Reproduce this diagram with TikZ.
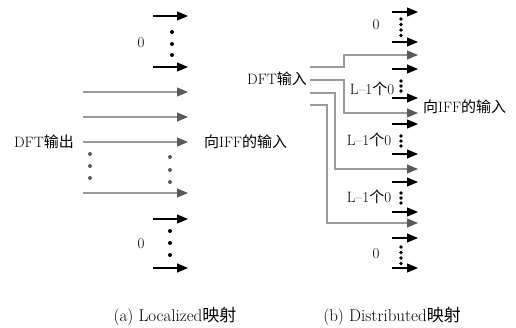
\documentclass[tikz,border=0pt]{standalone}
\usepackage{fontspec}
\newfontfamily\cjk{Noto Sans CJK SC}
\usetikzlibrary{arrows.meta}
\definecolor{lgray}{HTML}{9A9A9A}
\definecolor{dgray}{HTML}{5A5A5A}
\tikzset{
  zeroarrow/.style={draw=black, line width=1.1pt, -{Triangle[length=11pt,width=9pt]}},
  dataarrow/.style={draw=lgray, line width=1.1pt, -{Triangle[length=11pt,width=9pt,color=dgray]}},
  lbl/.style={inner sep=0pt, font=\fontsize{15}{18}\selectfont},
  captxt/.style={inner sep=0pt, font=\fontsize{17}{20}\selectfont},
  bdot/.style={fill=black, draw=none},
  gdot/.style={fill=dgray, draw=none},
}
\begin{document}
\begin{tikzpicture}[x=1pt,y=-1pt]
\useasboundingbox (0,0) rectangle (516,328);
% ---------- (a) Localized ----------
\foreach \y [count=\i] in {16,67,219,268} {
  \coordinate (azs\i) at (153,\y); \coordinate (aze\i) at (188,\y);
  \draw[zeroarrow] (azs\i) -- (aze\i);
}
\foreach \y [count=\i] in {92,117,142,193} {
  \coordinate (ads\i) at (83,\y); \coordinate (ade\i) at (188,\y);
  \draw[dataarrow] (ads\i) -- (ade\i);
}
\node[lbl] (az1) at (141,43) {0};
\node[lbl] (az2) at (141,244) {0};
\foreach \y in {32,44,55} \fill[bdot] (172,\y) circle (2);
\foreach \y in {231,243,255} \fill[bdot] (170,\y) circle (2);
\foreach \y in {154,166,178} \fill[gdot] (90,\y) circle (2);
\foreach \y in {157,170,182} \fill[gdot] (170,\y) circle (2);
\node[lbl, anchor=east] (aout) at (74,142) {DFT{\cjk 输出}};
\node[lbl, anchor=west] (ain) at (204,142) {{\cjk 向}IFF{\cjk 的输入}};
% ---------- (b) Distributed ----------
\foreach \y [count=\i] in {12,42,69,98,124,154,182,212,238,268} {
  \coordinate (bzs\i) at (392,\y); \coordinate (bze\i) at (418,\y);
  \draw[zeroarrow] (bzs\i) -- (bze\i);
}
\node[lbl, anchor=east] (bin) at (307,79) {DFT{\cjk 输入}};
\coordinate (l1s) at (310,67);  \coordinate (l1e) at (418,55);
\coordinate (l2s) at (310,80);  \coordinate (l2e) at (418,113);
\coordinate (l3s) at (310,93);  \coordinate (l3e) at (418,169);
\coordinate (l4s) at (310,105); \coordinate (l4e) at (418,223);
\draw[dataarrow] (l1s) -- (344,67) |- (l1e);
\draw[dataarrow] (l2s) -- (344,80) |- (l2e);
\draw[dataarrow] (l3s) -- (335,93) |- (l3e);
\draw[dataarrow] (l4s) -- (327,105) |- (l4e);
\node[lbl] (bz1) at (376,25) {0};
\node[lbl] (bz2) at (376,254) {0};
\foreach \y in {19,24.5,30,35.5} \fill[bdot] (401,\y) circle (1.8);
\foreach \y in {247,252.5,258,263.5} \fill[bdot] (401,\y) circle (1.8);
\node[lbl] (bl1) at (372,89) {L{\textendash}1{\cjk 个}0};
\node[lbl] (bl2) at (369,140) {L{\textendash}1{\cjk 个}0};
\node[lbl] (bl3) at (369,197) {L{\textendash}1{\cjk 个}0};
\foreach \c in {86,141,198} {
  \foreach \d in {-5,0,5} \fill[bdot] (401,\c+\d) circle (1.8);
}
\node[lbl, anchor=west] (bout) at (423,107) {{\cjk 向}IFF{\cjk 的输入}};
% ---------- captions ----------
\node[captxt] (capa) at (175,316) {(a) Localized{\cjk 映射}};
\node[captxt] (capb) at (392,316) {(b) Distributed{\cjk 映射}};
\end{tikzpicture}
\end{document}
